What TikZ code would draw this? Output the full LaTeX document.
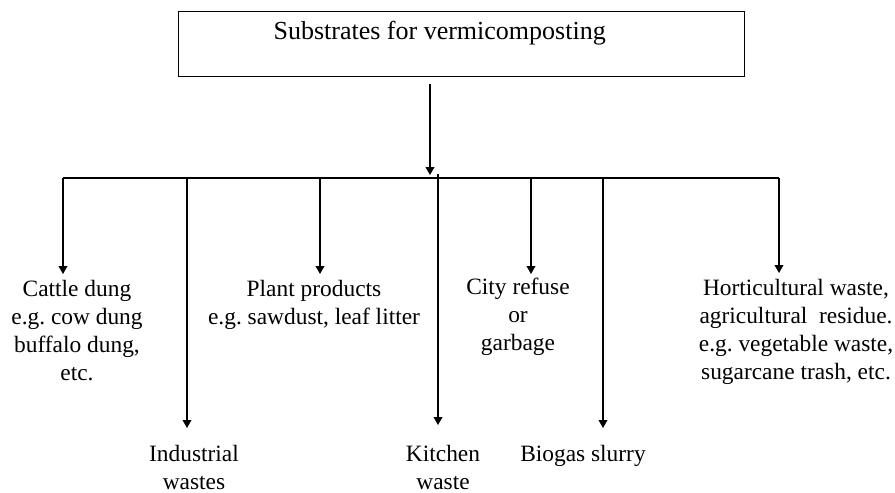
\documentclass[tikz,border=0pt]{standalone}
\usepackage{fontspec}
\setmainfont{Liberation Serif}
\usetikzlibrary{arrows.meta,calc}
\frenchspacing

\begin{document}
\begin{tikzpicture}[
  x=0.5pt, y=-0.5pt,
  line width=0.6pt,
  >={Triangle[length=4pt,width=4.4pt]},
  topbox/.style={draw, inner xsep=0pt, inner ysep=0pt, text height=14pt, text depth=18.5pt, font=\fontsize{13}{15.6}\selectfont},
  leaf/.style={anchor=north, inner sep=0pt, align=center, font=\fontsize{11.7}{14}\selectfont}
]
\useasboundingbox (0,0) rectangle (895,493);

% Top box
\node[topbox, anchor=north west] (substr) at (178,11) {\makebox[283pt][l]{\hspace*{47.5pt}Substrates for vermicomposting}};

% Bus points
\coordinate (split) at (430,178);
\foreach \name/\x in {bcat/63, bind/187, bplant/320, bkit/438, bcity/531, bbio/603, bhort/779} {
  \coordinate (\name) at (\x,178);
}

% Substrate groups
\node[leaf] (catdung) at (77,280) {Cattle dung\\e.g. cow dung\\buffalo dung,\\etc.};
\node[leaf] (indwaste) at (194,445) {Industrial\\wastes};
\node[leaf] (plantprod) at (314,280) {Plant products\\e.g. sawdust, leaf litter};
\node[leaf] (kitchen) at (443,445) {Kitchen\\waste};
\node[leaf] (cityref) at (518,277) {City refuse\\or\\garbage};
\node[leaf] (biogas) at (583,445) {Biogas slurry};
\node[leaf] (horti) at (796,279) {Horticultural waste,\\agricultural~ residue.\\e.g. vegetable waste,\\sugarcane trash, etc.};

% Arrow down to the bus
\draw[->] ($(substr.south -| split)+(0,7)$) -- ([yshift=1.5pt]split);
\draw (bcat) -- (bhort);

% Branches
\foreach \b/\n/\g in {bcat/catdung/3pt, bind/indwaste/8.5pt, bplant/plantprod/3pt, bcity/cityref/1.5pt, bbio/biogas/8.5pt, bhort/horti/3pt} {
  \draw[->, shorten >=\g] (\b) -- (\b |- \n.north);
}
\draw[->, shorten >=10pt] ([yshift=2pt]bkit) -- (bkit |- kitchen.north);

\end{tikzpicture}
\end{document}
